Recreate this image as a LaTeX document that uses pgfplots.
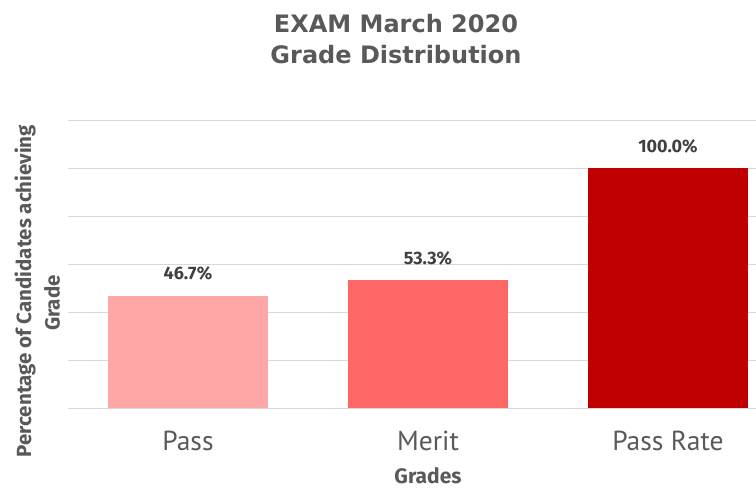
\documentclass[border=0pt]{standalone}
\usepackage{pgfplots}
\pgfplotsset{compat=1.18}
\usepackage{fontspec}
\setmainfont{PT Sans}
\newfontfamily\boldf{Fira Sans}
\newfontfamily\titlef{DejaVu Sans}
\definecolor{txt}{HTML}{595959}
\definecolor{lab}{HTML}{404040}
\definecolor{gridc}{HTML}{D9D9D9}
\definecolor{cpass}{HTML}{FFA7A7}
\definecolor{cmerit}{HTML}{FF6666}
\definecolor{crate}{HTML}{C00000}
\begin{document}
\begin{tikzpicture}
\useasboundingbox (0pt,0pt) rectangle (756pt,-491pt);
\begin{axis}[
  at={(68pt,-408pt)}, anchor=south west,
  scale only axis, width=688pt, height=288pt,
  xmin=-0.5, xmax=2.367, ymin=0, ymax=120,
  axis line style={draw=none},
  ytick={0,20,...,120}, yticklabels={},
  ymajorgrids=true, xmajorgrids=false,
  major grid style={draw=gridc, line width=0.8pt},
  major tick length=0pt,
  xtick={0,1,2}, xticklabels={Pass,Merit,Pass Rate},
  xticklabel style={font=\fontsize{27.5}{30}\selectfont, text=txt, yshift=-19pt},
  ybar, bar width=160pt, bar shift=0pt,
  clip=false,
  /pgf/number format/assume math mode=true,
  nodes near coords={\pgfmathprintnumber[fixed,fixed zerofill,precision=1]{\pgfplotspointmeta}\%},
  nodes near coords style={font=\boldf\bfseries\fontsize{18}{20}\selectfont, text=lab, anchor=base, yshift=16pt},
]
\addplot[fill=cpass, draw=none] coordinates {(0,46.7)};
\addplot[fill=cmerit, draw=none] coordinates {(1,53.3)};
\addplot[fill=crate, draw=none] coordinates {(2,100)};
\end{axis}
\node[text=txt, font=\titlef\bfseries\fontsize{24}{30}\selectfont, anchor=base] at (396pt,-32pt) {EXAM March 2020};
\node[text=txt, font=\titlef\bfseries\fontsize{24}{30}\selectfont, anchor=base] at (396pt,-63pt) {Grade Distribution};
\node[text=txt, font=\boldf\bfseries\fontsize{20.5}{24}\selectfont, rotate=90] at (25pt,-291pt) {Percentage of Candidates achieving};
\node[text=txt, font=\boldf\bfseries\fontsize{20.5}{24}\selectfont, rotate=90] at (52pt,-303pt) {Grade};
\node[text=txt, font=\boldf\bfseries\fontsize{21}{24}\selectfont] at (428pt,-476pt) {Grades};
\end{tikzpicture}
\end{document}
